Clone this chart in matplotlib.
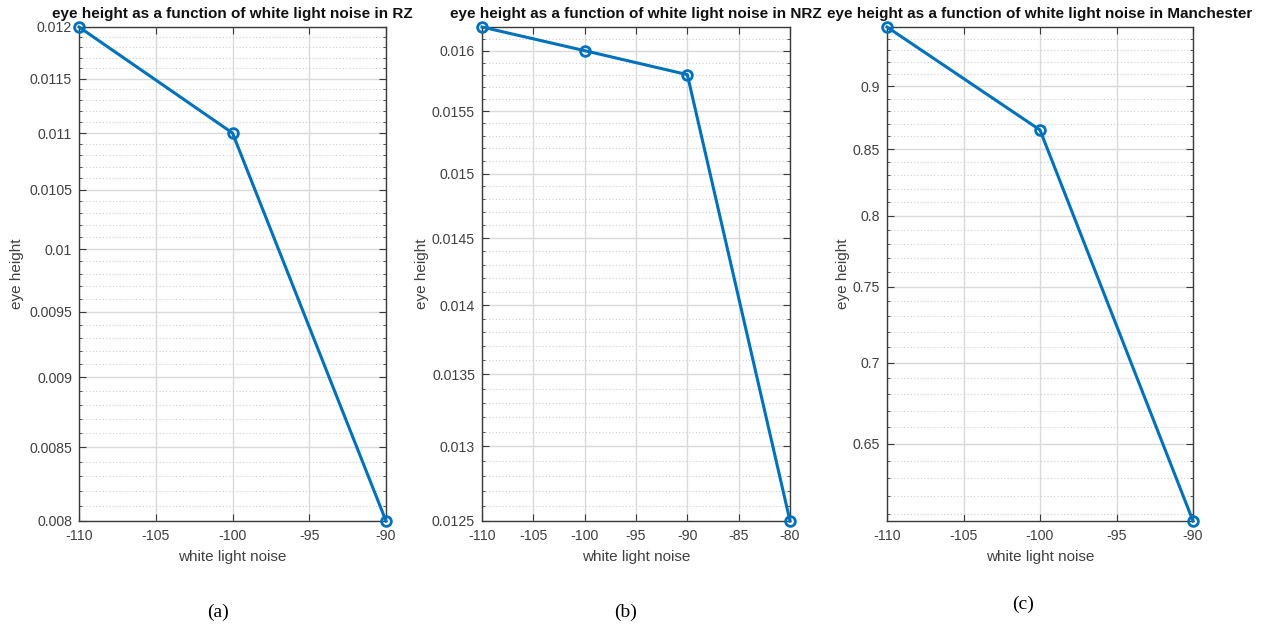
import matplotlib
matplotlib.use("Agg")
import matplotlib.pyplot as plt
from matplotlib.ticker import FixedLocator, FormatStrFormatter, NullFormatter
import numpy as np

plt.rcParams['font.family'] = ['Liberation Sans', 'DejaVu Sans']

# ---- data ----
noise_rz = [-110, -100, -90]
eye_rz = [0.012, 0.011, 0.008]

noise_nrz = [-110, -100, -90, -80]
eye_nrz = [0.0162, 0.0160, 0.0158, 0.0125]

noise_man = [-110, -100, -90]
eye_man = [0.950, 0.865, 0.606]

titles = ["eye height as a function of white light noise in RZ",
          "eye height as a function of white light noise in NRZ",
          "eye height as a function of white light noise in Manchester"]
captions = ["(a)", "(b)", "(c)"]

yticks_rz = [0.008, 0.0085, 0.009, 0.0095, 0.01, 0.0105, 0.011, 0.0115, 0.012]
yticks_nrz = [0.0125, 0.013, 0.0135, 0.014, 0.0145, 0.015, 0.0155, 0.016]
yticks_man = [0.65, 0.7, 0.75, 0.8, 0.85, 0.9]
xticks_rz = [-110, -105, -100, -95, -90]
xticks_nrz = [-110, -105, -100, -95, -90, -85, -80]
xticks_man = [-110, -105, -100, -95, -90]

minor_step = [0.0001, 0.0001, 0.01]

W, H = 1266, 625
fig = plt.figure(figsize=(W / 100, H / 100), dpi=100)

boxes = [(79, 386), (482, 790), (887, 1193)]
top_px, bot_px = 27, 521
ylabel_x = [17, 422, 843]
xlabel_y = 557
caption_pos = [(218, 617), (626, 617), (1023, 609)]

panels = [
    (noise_rz, eye_rz, yticks_rz, xticks_rz),
    (noise_nrz, eye_nrz, yticks_nrz, xticks_nrz),
    (noise_man, eye_man, yticks_man, xticks_man),
]

line_color = '#0072BD'
axis_color = '#3a3a3a'
label_color = '#404040'

for i, (xs, ys, yt, xt) in enumerate(panels):
    l, r = boxes[i]
    wpx, hpx = r - l, bot_px - top_px
    ax = fig.add_axes([l / W, 1 - bot_px / H, wpx / W, hpx / H])
    ax.plot(xs, ys, '-o', color=line_color, lw=2.2, ms=7, mfc='none', mew=2,
            clip_on=False, zorder=5)
    ax.set_yscale('log')
    ax.set_xlim(min(xs), max(xs))
    ax.set_ylim(min(ys), max(ys))
    ax.yaxis.set_major_locator(FixedLocator(yt))
    ax.yaxis.set_major_formatter(FormatStrFormatter('%g'))
    step = minor_step[i]
    lo, hi = min(ys), max(ys)
    mins = np.arange(np.ceil(lo / step) * step, hi + step * 0.01, step)
    ax.yaxis.set_minor_locator(FixedLocator(mins))
    ax.yaxis.set_minor_formatter(NullFormatter())
    ax.xaxis.set_major_locator(FixedLocator(xt))
    ax.xaxis.set_major_formatter(FormatStrFormatter('%g'))
    ax.xaxis.set_minor_locator(FixedLocator([]))

    ax.grid(True, which='major', color='#dadada', lw=1, ls='-')
    ax.grid(True, which='minor', axis='y', color='#cfcfcf', lw=0.8, ls=(0, (1, 2)))
    ax.set_axisbelow(True)

    for s in ax.spines.values():
        s.set_color(axis_color)
        s.set_linewidth(1)
    ax.tick_params(which='both', direction='in', top=True, right=True,
                   colors=axis_color, labelcolor=label_color, labelsize=10.2)
    ax.tick_params(which='major', length=5)
    ax.tick_params(which='minor', length=2.5)
    ax.tick_params(axis='x', which='major', pad=6)
    ax.tick_params(axis='y', which='major', pad=5)

    ax.set_title(titles[i], fontsize=11, fontweight='bold', color='#111111', pad=6.5)
    ax.set_xlabel("white light noise", fontsize=11, color=label_color)
    ax.set_ylabel("eye height", fontsize=11, color=label_color)
    ax.xaxis.label.set_va('center')
    ax.yaxis.label.set_va('center')
    ax.xaxis.set_label_coords(0.5, (bot_px - xlabel_y) / hpx)
    ax.yaxis.set_label_coords((ylabel_x[i] - l) / wpx, 0.5)

    cx, cy = caption_pos[i]
    fig.text(cx / W, 1 - cy / H, captions[i], fontsize=14,
             family=['Liberation Serif', 'DejaVu Serif'], ha='center', va='baseline')

fig.savefig("out.png", dpi=100)
